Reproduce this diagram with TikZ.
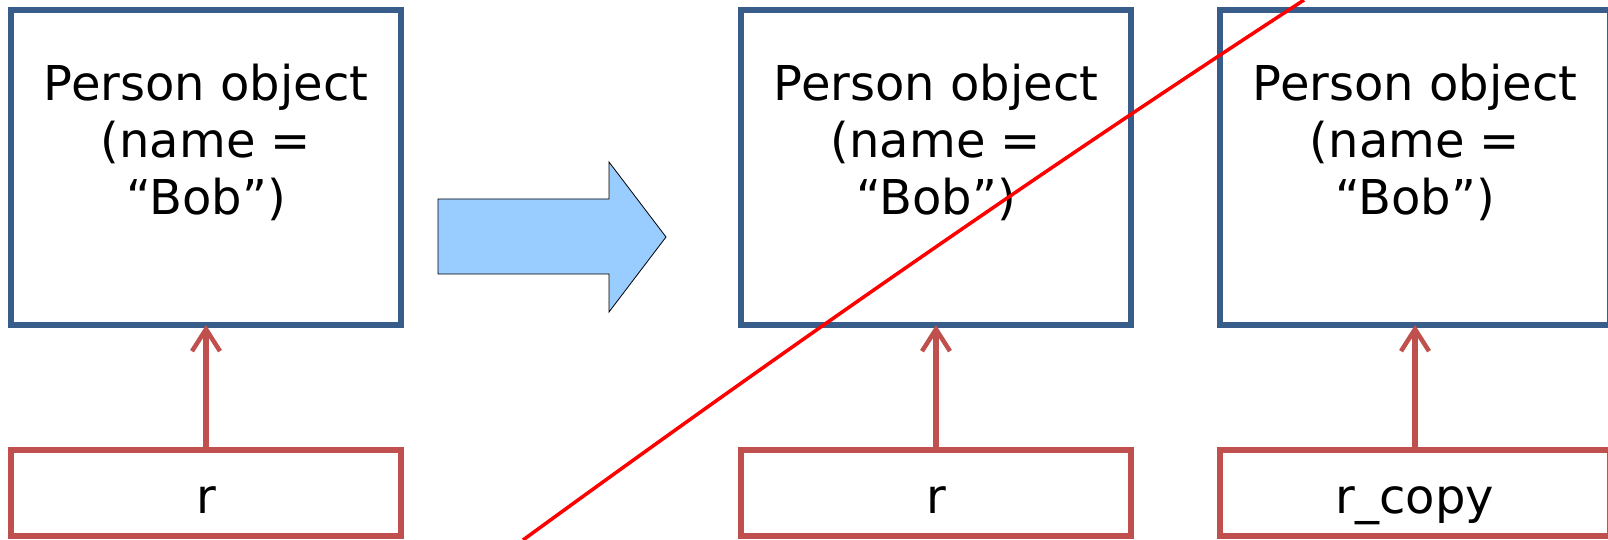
\documentclass[tikz,border=0pt]{standalone}
\usepackage{fontspec}
\setmainfont{DejaVu Sans}
\usetikzlibrary{arrows.meta}
\definecolor{objblue}{RGB}{56,93,138}
\definecolor{refred}{RGB}{192,80,77}
\definecolor{flechebleue}{RGB}{153,204,255}

\tikzset{
	objbox/.style={rectangle,
		draw=objblue,
		line width=6pt,
		minimum width=390pt,
		minimum height=315pt,
		outer sep=0pt,
		align=center,
		font=\fontsize{48}{57}\selectfont},
	refbox/.style={rectangle,
		draw=refred,
		line width=6pt,
		minimum width=390pt,
		minimum height=86pt,
		outer sep=0pt,
		text height=48pt,  % ligne de base un peu plus bas
		text depth=8pt,
		font=\fontsize{48}{57}\selectfont},
	pointer/.style={draw=refred,
		line width=6pt,
		-{Straight Barb[length=22pt,width=28pt,line width=4.5pt]}},
}

\begin{document}
\begin{tikzpicture}[x=1pt,y=-1pt]
	\useasboundingbox (0,0) rectangle (1608,540);

	% avant : une seule référence
	\node[objbox] (objA) at (206,167.5) {Person object\\(name =\\“Bob”)\\\mbox{}};
	\node[refbox] (refA) at (206,493) {r};
	\draw[pointer] (refA) -- (objA);

	% la grosse flèche
	\draw[fill=flechebleue, draw=black, line width=0.8pt]
		(438,199) -- (609,199) -- (609,162) -- (666,237)
		-- (609,312) -- (609,274) -- (438,274) -- cycle;

	% après : la copie
	\node[objbox] (objB) at (936,167.5) {Person object\\(name =\\“Bob”)\\\mbox{}};
	\node[refbox] (refB) at (936,493) {r};
	\draw[pointer] (refB) -- (objB);

	\node[objbox] (objC) at (1415,167.5) {Person object\\(name =\\“Bob”)\\\mbox{}};
	\node[refbox] (refC) at (1415,493) {r\_copy};
	\draw[pointer] (refC) -- (objC);

	% barré
	\draw[red, line width=3.5pt]
		(523,540) .. controls (778,354) and (1040,172) .. (1304,0);
\end{tikzpicture}
\end{document}
